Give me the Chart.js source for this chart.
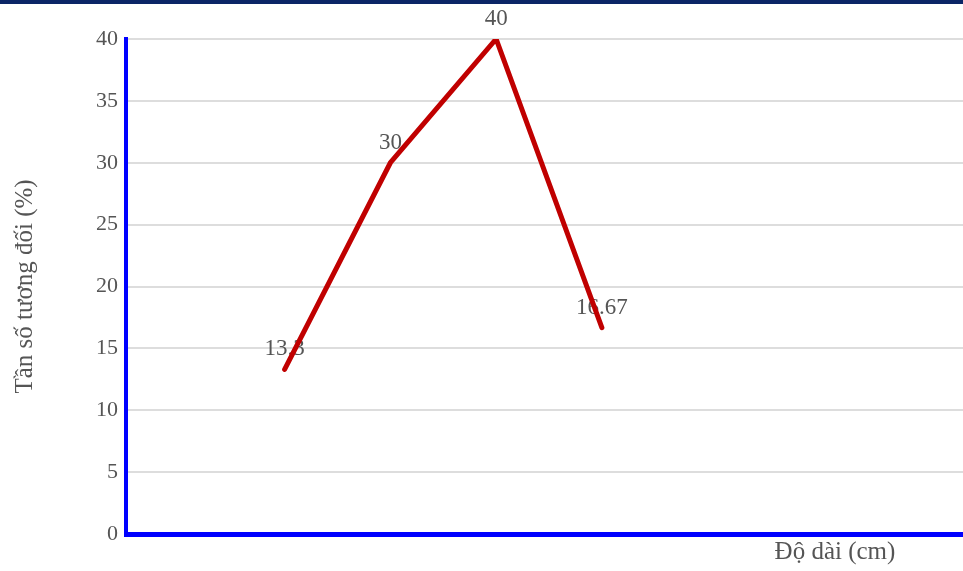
<!DOCTYPE html>
<html>
<head>
<meta charset="utf-8">
<script src="https://cdn.jsdelivr.net/npm/chart.js@4"></script>
<style>
  html, body { margin: 0; padding: 0; background: #fff; overflow: hidden; }
  #topbar { height: 4px; background: #0b2566; width: 963px; }
  #wrap { width: 980px; height: 567px; }
</style>
</head>
<body>
<div id="topbar"></div>
<div id="wrap"><canvas id="chart" width="980" height="567"></canvas></div>
<script>
// class midpoints (x) and relative frequency (%)
const xValues = [1.5, 2.5, 3.5, 4.5];
const freqValues = [13.3, 30, 40, 16.67];
const freqLabels = ['13.3', '30', '40', '16.67'];
const yTicks = [0, 5, 10, 15, 20, 25, 30, 35, 40];

const FONT = '"Liberation Serif", "Times New Roman", serif';

const pointLabels = {
  id: 'pointLabels',
  beforeDatasetsDraw(chart) {
    const ctx = chart.ctx;
    const meta = chart.getDatasetMeta(0);
    ctx.save();
    ctx.font = '23px ' + FONT;
    ctx.fillStyle = '#555';
    ctx.textAlign = 'center';
    ctx.textBaseline = 'middle';
    meta.data.forEach((pt, i) => {
      ctx.fillText(freqLabels[i], pt.x, pt.y - 20);
    });
    ctx.restore();
  }
};

const xTitle = {
  id: 'xTitle',
  afterDraw(chart) {
    const ctx = chart.ctx;
    ctx.save();
    ctx.font = '25px ' + FONT;
    ctx.fillStyle = '#555';
    ctx.textAlign = 'center';
    ctx.textBaseline = 'middle';
    ctx.fillText('Độ dài (cm)', 835, chart.chartArea.bottom + 18);
    ctx.restore();
  }
};

new Chart(document.getElementById('chart'), {
  type: 'line',
  data: {
    datasets: [{
      data: xValues.map((x, i) => ({ x: x, y: freqValues[i] })),
      borderColor: '#c00000',
      borderWidth: 5,
      borderCapStyle: 'round',
      tension: 0,
      pointRadius: 0,
      fill: false
    }]
  },
  options: {
    responsive: false,
    animation: false,
    layout: { padding: { top: 35, bottom: 37, left: 0, right: 8 } },
    plugins: { legend: { display: false }, tooltip: { enabled: false } },
    scales: {
      x: {
        type: 'linear',
        min: 0,
        max: 8,
        ticks: { display: false },
        grid: { display: false, drawTicks: false },
        border: { color: '#0000ff', width: 5 }
      },
      y: {
        min: 0,
        max: 40,
        afterBuildTicks(scale) { scale.ticks = yTicks.map(v => ({ value: v })); },
        afterFit(scale) { scale.width = 126; },
        ticks: { color: '#555', font: { family: FONT, size: 22 }, padding: 8 },
        grid: { color: '#dddddd', lineWidth: 2, drawTicks: false },
        border: { color: '#0000ff', width: 4 },
        title: {
          display: true,
          text: 'Tần số tương đối (%)',
          color: '#555',
          font: { family: FONT, size: 25 },
          padding: { top: 10, bottom: 0 }
        }
      }
    }
  },
  plugins: [pointLabels, xTitle]
});
</script>
</body>
</html>
